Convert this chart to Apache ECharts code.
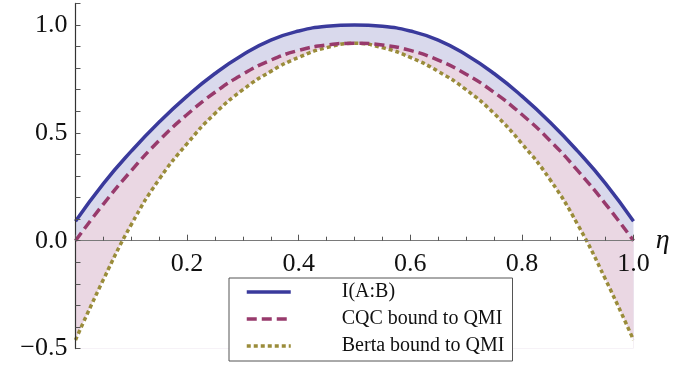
<!DOCTYPE html>
<html>
<head>
<meta charset="utf-8">
<script src="https://cdn.jsdelivr.net/npm/echarts@6/dist/echarts.min.js"></script>
<style>
  html, body { margin: 0; padding: 0; background: #fff; }
  #chart { width: 685px; height: 369px; }
</style>
</head>
<body>
<div id="chart"></div>
<script>
const eta = [0, 0.05, 0.1, 0.15, 0.2, 0.25, 0.3, 0.35, 0.4, 0.45, 0.5,
  0.55, 0.6, 0.65, 0.7, 0.75, 0.8, 0.85, 0.9, 0.95, 1.0]
const mutualInfo = [0.09, 0.265, 0.415, 0.55, 0.67, 0.775, 0.862, 0.93, 0.972, 0.994, 1.0,
  0.994, 0.972, 0.93, 0.862, 0.775, 0.67, 0.55, 0.415, 0.265, 0.09]
const cqcBound = [0, 0.17, 0.325, 0.465, 0.585, 0.688, 0.772, 0.837, 0.882, 0.907, 0.915,
  0.907, 0.882, 0.837, 0.772, 0.688, 0.585, 0.465, 0.325, 0.17, 0]
const bertaBound = [-0.46, -0.18, 0.075, 0.285, 0.45, 0.59, 0.7, 0.785, 0.85, 0.895, 0.915,
  0.895, 0.85, 0.785, 0.7, 0.59, 0.45, 0.285, 0.075, -0.18, -0.46]
const seriesNames = ['I(A:B)', 'CQC bound to QMI', 'Berta bound to QMI']

const blue = '#3a3a9c'
const purple = '#983a6c'
const olive = '#9a8c3a'
const serif = 'Liberation Serif'

const pairs = ys => eta.map((x, i) => [x, ys[i]])
const isMultiple = (v, step) => Math.abs(v / step - Math.round(v / step)) < 1e-6

const chart = echarts.init(document.getElementById('chart'))

// bands: lavender under I(A:B), pink under CQC, then white under Berta clears the rest
function band(name, ys, color) {
  return { name, type: 'line', smooth: 0.5, symbol: 'none', silent: true, z: 1,
    data: pairs(ys), lineStyle: { width: 0, opacity: 0 },
    areaStyle: { color, opacity: 1, origin: 'start' } }
}

function curve(name, ys, color, type, z) {
  return { name, type: 'line', smooth: 0.5, symbol: 'none', z,
    data: pairs(ys), lineStyle: { color, width: 3.5, type }, itemStyle: { color } }
}

chart.setOption({
  animation: false,
  backgroundColor: '#fff',
  grid: { left: 75.5, right: 51.5, top: 3.4, bottom: 20.4 },
  xAxis: {
    type: 'value', min: 0, max: 1, interval: 0.2, z: 6,
    position: 'bottom', offset: -107.9,
    name: 'η', nameLocation: 'end', nameGap: 7,
    nameTextStyle: { fontFamily: serif, fontStyle: 'italic', fontSize: 28, color: '#111',
      verticalAlign: 'middle', padding: [10, 0, 0, 0] },
    axisLine: { onZero: false, lineStyle: { color: '#7a7a7a', width: 1.2 } },
    axisTick: { inside: true, length: 6, lineStyle: { color: '#555' } },
    minorTick: { show: true, splitNumber: 4, length: 4, lineStyle: { color: '#555' } },
    splitLine: { show: false },
    axisLabel: { fontFamily: serif, fontSize: 26, color: '#111', margin: 10,
      formatter: v => v === 0 ? '' : v.toFixed(1) }
  },
  yAxis: {
    type: 'value', min: -0.5, max: 1.1, interval: 0.1, z: 6,
    axisLine: { show: true, lineStyle: { color: '#333', width: 1.2 } },
    axisTick: { inside: true, length: 5, lineStyle: { color: '#555' } },
    splitLine: { show: false },
    axisLabel: { fontFamily: serif, fontSize: 26, color: '#111', margin: 8,
      formatter: v => isMultiple(v, 0.5) && v < 1.05 ? (v < 0 ? '\u2212' + Math.abs(v).toFixed(1) : v.toFixed(1)) : '' }
  },
  legend: {
    data: seriesNames,
    orient: 'vertical', left: 229, top: 278,
    padding: [4, 8, 5, 16],
    itemWidth: 44, itemHeight: 20, itemGap: 7,
    borderColor: '#555', borderWidth: 1, borderRadius: 0,
    backgroundColor: '#fff',
    itemStyle: { color: 'rgba(0,0,0,0)', borderWidth: 0, opacity: 0 },
    lineStyle: { width: 3.5 },
    textStyle: { fontFamily: serif, fontSize: 20, color: '#111', lineHeight: 20, padding: [0, 0, 0, 46] }
  },
  series: [
    band('bandTop', mutualInfo, '#d9d9ec'),
    band('bandMid', cqcBound, '#ead7e3'),
    band('bandLow', bertaBound, '#ffffff'),
    curve(seriesNames[2], bertaBound, olive, [4, 3], 3),
    curve(seriesNames[1], cqcBound, purple, [10, 5], 4),
    curve(seriesNames[0], mutualInfo, blue, 'solid', 5)
  ]
})
</script>
</body>
</html>
